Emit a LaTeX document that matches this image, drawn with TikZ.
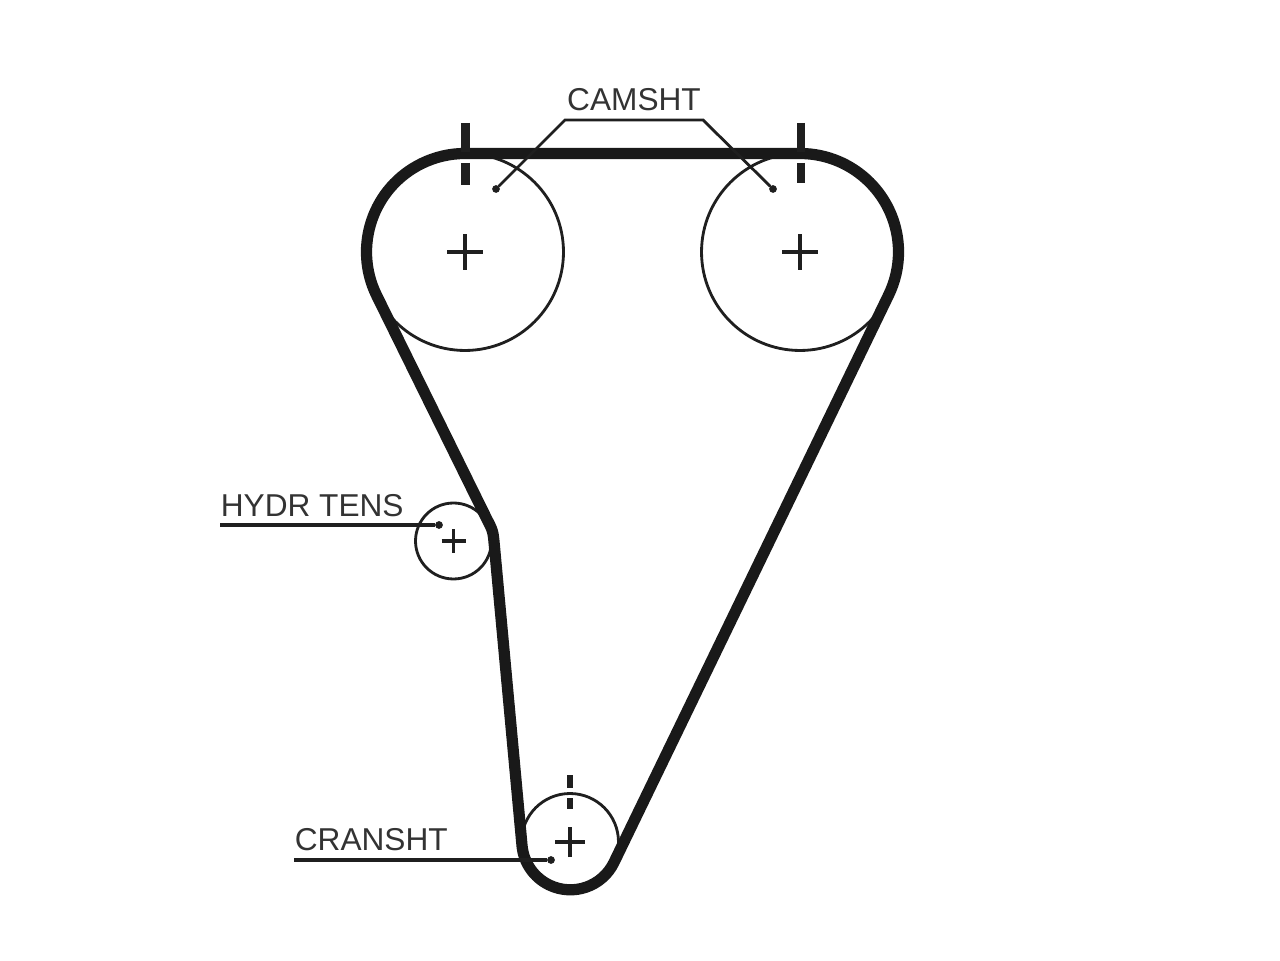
\documentclass[tikz,border=0pt]{standalone}
\usepackage{fontspec}
\setmainfont{Liberation Sans}
\tikzstyle{thinline} = [line width=1.6pt, color=black!88]
\tikzstyle{heavyline} = [line width=2.1pt, color=black!88]
\tikzstyle{belt} = [line width=6.4pt, color=black!90, line join=round]
\tikzstyle{pulley} = [shape = circle, draw, thinline, inner sep=0pt, outer sep=0pt]
\tikzstyle{tick} = [color=black!88]
\tikzstyle{dot} = [shape = circle, fill=black!88, inner sep=0pt, outer sep=0pt, minimum size=4.4pt]
\tikzstyle{lbl} = [inner xsep=0.5pt, inner ysep=0pt, outer sep=0pt, color=black!80, font=\fontsize{18}{20}\selectfont]

\begin{document}
\begin{tikzpicture}[x=0.02cm, y=0.02cm]
			\useasboundingbox (0,0) rectangle (1280,960);
			\node (camL) at (465,708) [pulley, minimum size=3.94cm] {};
			\node (camR) at (800,708) [pulley, minimum size=3.94cm] {};
			\node (tens) at (453.5,419) [pulley, minimum size=1.52cm] {};
			\node (crank) at (570,118) [pulley, minimum size=1.94cm] {};
			\coordinate (bendLow) at (494.3,415);
			\coordinate (bend) at (493,429);
			\coordinate (bendHigh) at (486.8,441);
			% belt
			\draw[belt] (camL.north) -- (camR.north)
				arc[start angle=90, end angle=-25.9, radius=98.5]
				-- (crank.-25.9)
				arc[start angle=-25.9, end angle=-174.8, radius=48.5]
				-- (bendLow) .. controls (bend) .. (bendHigh)
				-- (camL.206)
				arc[start angle=206, end angle=90, radius=98.5];
			% centre marks
			\foreach \p/\c in {camL/18, camR/18} {
				\draw[thinline, line width=1.8pt] (\p.center) +(-\c,0) -- +(\c,0) +(0,-\c) -- +(0,\c);
			}
			\draw[heavyline] (crank.center) +(-15,0) -- +(15,0) +(0,-15) -- +(0,15);
			\draw[heavyline] (tens.center) +(-12,0) -- +(12,0) +(0,-12) -- +(0,12);
			% timing marks
			\draw[tick, line width=5pt] (465.5,837) -- (465.5,808) (465.5,797) -- (465.5,775);
			\draw[tick, line width=4.6pt] (801,837) -- (801,808) (801,797) -- (801,777);
			\draw[tick, line width=3.8pt] (570,185) -- (570,172) (570,162) -- (570,151);
			% labels
			\node (camsht) at (634,849) [lbl, anchor=base] {CAMSHT};
			\node (hydr) at (220,443) [lbl, anchor=base west] {HYDR TENS};
			\node (cransht) at (294,110) [lbl, anchor=base west] {CRANSHT};
			\node (camLdot) at (496,771) [dot] {};
			\node (camRdot) at (773,771) [dot] {};
			\node (hydrdot) at (439,435) [dot] {};
			\node (crankdot) at (551,100) [dot] {};
			\coordinate (camshtL) at (565,840);
			\coordinate (camshtR) at (703,840);
			\draw[thinline] (camLdot) -- (camshtL) -- (camshtR) -- (camRdot);
			\draw[heavyline] (hydr.base west) ++(0,-8) -- (hydrdot);
			\draw[heavyline] (cransht.base west) ++(0,-10) -- (crankdot);
		\end{tikzpicture}
\end{document}
